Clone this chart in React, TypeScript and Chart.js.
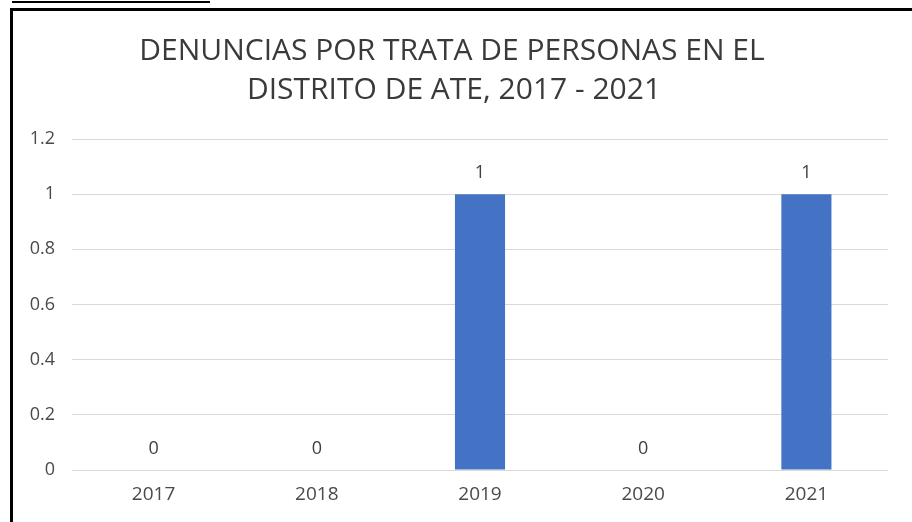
import React, { useEffect, useRef } from "react";
import { Chart, registerables } from "chart.js";

Chart.register(...registerables);

const categories = ["2017", "2018", "2019", "2020", "2021"];
const denuncias = [0, 0, 1, 0, 1];
const titleLines = ["DENUNCIAS POR TRATA DE PERSONAS EN EL", "DISTRITO DE ATE, 2017 - 2021"];
const yMin = 0;
const yMax = 1.2;
const yStep = 0.2;

const FONT = "'Open Sans', 'Noto Sans', sans-serif";

const valueLabels = {
  id: "valueLabels",
  afterDatasetsDraw(chart: any) {
    const ctx = chart.ctx;
    const meta = chart.getDatasetMeta(0);
    ctx.save();
    ctx.font = `18px ${FONT}`;
    ctx.fillStyle = "#404040";
    ctx.textAlign = "center";
    ctx.textBaseline = "alphabetic";
    meta.data.forEach((el: any, i: number) => {
      ctx.fillText(String(denuncias[i]), el.x, el.y - 16);
    });
    ctx.restore();
  },
};

const titleDraw = {
  id: "titleDraw",
  afterDraw(chart: any) {
    const ctx = chart.ctx;
    ctx.save();
    ctx.font = `30px ${FONT}`;
    ctx.fillStyle = "#3a3a3a";
    ctx.textAlign = "center";
    ctx.textBaseline = "alphabetic";
    ctx.fillText(titleLines[0], 438, 49);
    ctx.fillText(titleLines[1], 440, 88);
    ctx.restore();
  },
};

export default function App() {
  const ref = useRef<HTMLCanvasElement | null>(null);

  useEffect(() => {
    if (!ref.current) return;
    const chart = new Chart(ref.current, {
      type: "bar",
      data: {
        labels: categories,
        datasets: [
          {
            data: denuncias,
            backgroundColor: "#4472C4",
            barPercentage: 0.307,
            categoryPercentage: 1,
          },
        ],
      },
      options: {
        animation: false,
        responsive: false,
        maintainAspectRatio: false,
        layout: { padding: { top: 128, right: 24, left: 0, bottom: 0 } },
        plugins: {
          legend: { display: false },
          title: { display: false },
          tooltip: { enabled: false },
        },
        scales: {
          x: {
            grid: { display: false, drawTicks: false },
            border: { display: false },
            ticks: {
              color: "#4a4a4a",
              font: { family: FONT, size: 19 },
              padding: 13,
            },
            afterFit(scale: any) {
              scale.height = 52;
            },
          },
          y: {
            min: yMin,
            max: yMax,
            grid: { color: "#d9d9d9", drawTicks: false, lineWidth: 1 },
            border: { display: false },
            ticks: {
              stepSize: yStep,
              color: "#4a4a4a",
              font: { family: FONT, size: 18 },
              padding: 17,
              callback: (v: any) => String(Number(Number(v).toFixed(1))),
            },
            afterFit(scale: any) {
              scale.width = 58;
            },
          },
        },
      },
      plugins: [valueLabels, titleDraw],
    });
    return () => chart.destroy();
  }, []);

  return (
    <div
      style={{
        position: "absolute",
        left: 0,
        top: 0,
        width: 912,
        height: 522,
        background: "#ffffff",
        overflow: "hidden",
      }}
    >
      <div style={{ position: "absolute", left: 12, top: 1, width: 198, height: 2, background: "#000" }} />
      <div style={{ position: "absolute", left: 10, top: 8, width: 902, height: 3, background: "#000" }} />
      <div style={{ position: "absolute", left: 10, top: 8, width: 3, height: 514, background: "#000" }} />
      <canvas
        ref={ref}
        width={898}
        height={511}
        style={{ position: "absolute", left: 14, top: 11, width: 898, height: 511 }}
      />
    </div>
  );
}
